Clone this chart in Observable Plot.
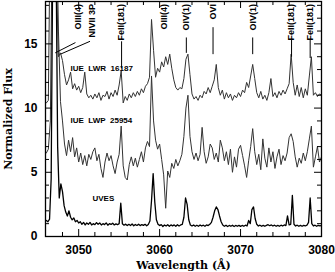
<!DOCTYPE html>
<html><head><meta charset="utf-8">
<script src="https://cdn.jsdelivr.net/npm/d3@7"></script>
<script src="https://cdn.jsdelivr.net/npm/@observablehq/plot@0.6"></script>
<style>
body{margin:0;background:#fff;}
svg text{white-space:pre;}
</style>
</head><body><div id="chart"></div>
<script>
// IUE spectra sampled every 0.25 Å from 3046.0 Å
const iueStart = 3046.0, iueStep = 0.25;
const lwrFlux = [10.4,10.6,25,25,25,20,14.0,14.3,13.7,12.6,11.8,12.2,12.8,11.5,11.9,11.4,11.7,11.2,11.6,12.8,
11.1,10.8,11.0,10.7,11.1,10.8,11.2,10.6,11.0,10.9,11.3,10.7,11.2,10.9,11.4,11.0,11.8,12.9,10.4,10.9,
10.6,11.1,10.8,11.2,10.9,11.3,11.0,11.5,11.2,11.7,11.9,12.4,16.9,14.5,12.4,13.1,12.8,13.6,13.2,14.0,
13.4,14.2,13.1,12.2,11.6,11.4,11.6,11.5,12.3,13.8,14.2,12.6,11.1,10.7,10.9,10.6,11.0,10.8,11.3,11.1,
11.6,11.2,11.7,12.2,13.4,11.6,11.0,11.4,10.7,11.2,10.8,11.1,10.6,11.0,10.8,11.2,10.9,11.4,11.2,12.0,
11.6,12.5,13.4,12.3,11.2,10.8,11.3,10.7,11.0,10.6,11.2,12.3,10.9,11.2,10.8,11.3,11.0,11.4,11.1,11.5,
11.9,14.2,12.0,11.0,11.8,10.9,11.6,10.8,11.5,11.0,12.5,14.0,11.0,11.2,10.9,11.1,11.0];
const lwpFlux = [6.5,6.8,9,25,25,25,16,10.5,9.0,7.2,6.3,7.5,6.6,7.7,6.2,6.9,5.8,6.5,5.6,6.3,
5.5,6.4,6.0,6.6,6.9,5.9,6.4,5.3,4.6,5.8,6.5,5.9,6.3,5.5,4.9,5.8,6.4,8.6,5.5,4.6,
4.4,5.6,6.2,5.5,6.1,5.4,6.0,6.6,5.8,6.9,7.4,7.0,12.5,9.0,7.5,6.8,7.2,6.0,4.8,2.2,
5.1,4.6,5.7,5.3,6.0,5.5,5.9,6.4,7.8,10.0,11.0,7.8,6.6,6.0,6.5,5.9,6.4,8.5,6.6,5.7,
6.2,7.2,6.9,6.0,6.5,5.8,7.5,6.9,5.9,6.6,5.6,6.8,5.0,6.2,5.4,6.8,7.1,6.3,5.5,4.6,
5.9,7.0,8.4,6.6,5.6,6.4,5.2,7.6,6.1,5.4,6.9,5.8,6.6,5.3,6.2,6.8,5.6,6.3,5.9,6.5,
7.7,8.0,7.4,6.2,5.4,6.1,5.7,6.5,5.9,6.6,7.6,8.6,5.4,6.2,7.0,5.8,6.2];
// UVES spectrum sampled every 0.2 Å from 3046.0 Å
const uvesStart = 3046.0, uvesStep = 0.2;
const uvesFlux = [1.25,1.15,1.35,4.5,22,30,22,7,3.0,4.1,3.5,2.4,1.9,1.6,2.0,1.5,1.3,1.45,1.15,1.25,
1.05,1.15,0.95,1.1,0.9,1.05,0.95,1.1,0.9,1.0,0.92,1.08,0.95,1.05,0.9,1.0,0.93,1.06,0.88,1.0,
0.94,1.04,0.9,0.98,0.92,1.0,2.6,1.0,0.88,0.96,0.85,0.95,0.86,0.97,0.84,0.94,0.86,0.96,0.85,0.93,
0.87,0.95,0.84,0.94,1.2,2.8,4.9,2.7,1.3,0.95,0.85,0.92,0.78,0.9,0.82,0.92,0.8,0.9,0.83,0.9,
0.8,0.92,0.82,0.9,0.95,1.5,3.0,2.5,1.3,0.9,0.82,0.9,0.8,0.88,0.8,0.9,0.82,0.88,0.8,0.9,
0.85,0.95,1.1,1.5,2.0,2.3,2.1,1.6,1.15,0.9,0.8,0.88,0.78,0.86,0.8,0.88,0.78,0.86,0.8,0.87,
0.79,0.86,0.8,0.88,0.82,1.25,1.0,2.1,2.3,1.4,0.95,0.82,0.88,0.8,0.87,0.8,0.86,0.92,0.84,0.9,
0.82,0.88,0.8,0.86,0.8,0.88,0.82,0.9,0.85,1.6,0.9,0.95,3.2,0.95,0.82,0.88,0.8,0.87,0.8,0.86,
0.82,0.88,1.1,3.0,1.0,0.82,0.88,0.8,0.86,0.82,0.85];

const xMajor = [3050,3060,3070,3080];
const xMinor = [3048,3052,3054,3056,3058,3062,3064,3066,3068,3072,3074,3076,3078];
const yMajor = [0,5,10,15];
const yMinor = [1,2,3,4,6,7,8,9,11,12,13,14,16,17,18];

// line identifications
const lineNames = ["OIII(4)","NIVII 3P","FeII(181)","OIII(4)","OIV(1)","OVI","OIV(1)","FeII(181)","FeII(181)"];
const lineLabelWave = [3049.9,3051.6,3055.3,3060.5,3063.3,3066.6,3071.5,3076.3,3078.6];
const markFromWave = [3049.6,3051.4,3055.3,null,3063.3,3066.6,3071.5,3076.3,3078.6];
const markFromFlux = [15.1,15.2,15.2,null,15.5,16.3,15.5,15.3,15.3];
const markToWave = [3047.1,3047.75,3055.3,null,3063.3,3066.6,3071.5,3076.3,3078.6];
const markToFlux = [14.3,14.2,13.1,null,14.3,14.2,14.2,14.0,13.9];
const labelTopFlux = 18.1;

const seriesNames = ["IUE  LWR  16187","IUE  LWP  25954","UVES"];
const seriesLabelWave = [3049.0,3049.0,3051.7];
const seriesLabelFlux = [13.1,9.0,2.95];

const W = 335, H = 272, mL = 45, mR = 14, mT = 1, mB = 36;
const fw = W - mL - mR, fh = H - mT - mB;
const idx = d3.range(lineNames.length).filter(i => markFromWave[i] !== null);

const plot = Plot.plot({
  width: W, height: H,
  marginLeft: mL, marginRight: mR, marginTop: mT, marginBottom: mB,
  style: {fontFamily: "Liberation Sans, Arial, sans-serif", fontSize: "12px", fontWeight: "bold", background: "#fff", color: "#000"},
  x: {domain: [3045.9, 3080], axis: null},
  y: {domain: [0, 18.3], axis: null},
  marks: [
    Plot.line(lwrFlux, {x: (d,i) => iueStart + i*iueStep, y: d => d, stroke: "#333", strokeWidth: 1, clip: true}),
    Plot.line(lwpFlux, {x: (d,i) => iueStart + i*iueStep, y: d => d, stroke: "#333", strokeWidth: 1, clip: true}),
    Plot.line(uvesFlux, {x: (d,i) => uvesStart + i*uvesStep, y: d => d, stroke: "#000", strokeWidth: 1.3, clip: true}),
    Plot.link(idx, {x1: i => markFromWave[i], y1: i => markFromFlux[i], x2: i => markToWave[i], y2: i => markToFlux[i], stroke: "#000", strokeWidth: 1}),
    Plot.text(d3.range(lineNames.length), {x: i => lineLabelWave[i], y: labelTopFlux, text: i => lineNames[i], rotate: -90, textAnchor: "end", fontSize: 9, fontWeight: "bold", fill: "#000"}),
    Plot.text(d3.range(seriesNames.length), {x: i => seriesLabelWave[i], y: i => seriesLabelFlux[i], text: i => seriesNames[i], textAnchor: "start", fontSize: 8, fontWeight: "bold", fill: "#000"}),
    Plot.frame({stroke: "#000", strokeWidth: 1.3}),
    // inward ticks, bottom and top
    Plot.tickX(xMajor, {x: d => d, insetTop: fh - 7, stroke: "#000"}),
    Plot.tickX(xMinor, {x: d => d, insetTop: fh - 4, stroke: "#000"}),
    Plot.tickX(xMajor, {x: d => d, insetBottom: fh - 7, stroke: "#000"}),
    Plot.tickX(xMinor, {x: d => d, insetBottom: fh - 4, stroke: "#000"}),
    // inward ticks, left and right
    Plot.tickY(yMajor, {y: d => d, insetRight: fw - 7, stroke: "#000"}),
    Plot.tickY(yMinor, {y: d => d, insetRight: fw - 4, stroke: "#000"}),
    Plot.tickY(yMajor, {y: d => d, insetLeft: fw - 7, stroke: "#000"}),
    Plot.tickY(yMinor, {y: d => d, insetLeft: fw - 4, stroke: "#000"}),
    Plot.axisX({ticks: xMajor, tickSize: 0, tickPadding: 9, label: null, tickFormat: d => String(d), fontSize: 12, fontWeight: "bold"}),
    Plot.axisY({ticks: yMajor, tickSize: 0, tickPadding: 8, label: null, tickFormat: d => String(d), fontSize: 12, fontWeight: "bold"}),
    Plot.text(["Wavelength (Å)"], {frameAnchor: "bottom", dy: 29, textAnchor: "middle", lineAnchor: "middle", fontFamily: "DejaVu Serif", fontWeight: "bold", fontSize: 11, fill: "#000"}),
    Plot.text(["Normalized Flux"], {frameAnchor: "left", dx: -37, rotate: -90, textAnchor: "middle", lineAnchor: "middle", fontFamily: "DejaVu Serif", fontWeight: "bold", fontSize: 11, fill: "#000"})
  ]
});
document.getElementById("chart").appendChild(plot);
</script>
</body></html>
